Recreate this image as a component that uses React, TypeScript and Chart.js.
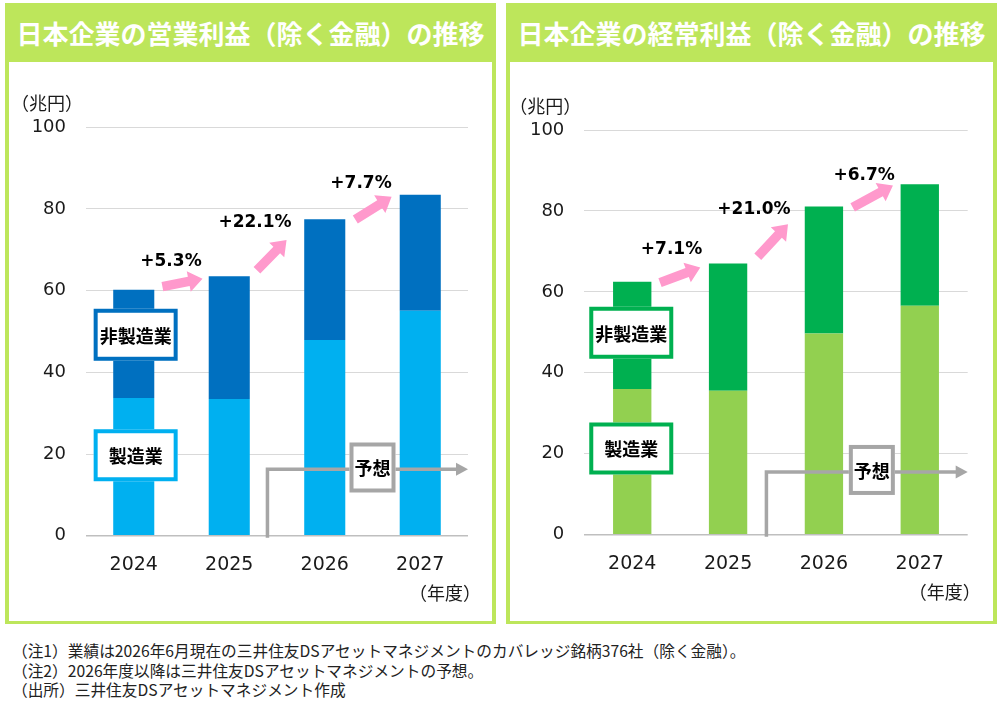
import { useEffect, useRef } from "react"
import { Chart, registerables } from "chart.js"

Chart.register(...registerables)

const years = ["2024", "2025", "2026", "2027"]
const yTicks = [0, 20, 40, 60, 80, 100]

// 営業利益（兆円）
const opMfg = [33.7, 33.5, 47.9, 55.1]
const opNonMfg = [26.5, 30.0, 29.6, 28.4]
const opGrowth = ["+5.3%", "+22.1%", "+7.7%"]

// 経常利益（兆円）
const ordMfg = [36.0, 35.6, 49.7, 56.6]
const ordNonMfg = [26.5, 31.4, 31.4, 30.0]
const ordGrowth = ["+7.1%", "+21.0%", "+6.7%"]

const notes = [
  "（注1）業績は2026年6月現在の三井住友DSアセットマネジメントのカバレッジ銘柄376社（除く金融）。",
  "（注2）2026年度以降は三井住友DSアセットマネジメントの予想。",
  "（出所）三井住友DSアセットマネジメント作成",
]

const GREEN = "#BDE65B"
const PINK = "#FF99CC"
const GRAY = "#A6A6A6"
const NUM_FONT = "'DejaVu Sans', 'Noto Sans CJK JP', sans-serif"
const JP_FONT = "'Noto Sans CJK JP', sans-serif"

// [category position, value]
type Pt = [number, number]

type PanelProps = {
  title: string
  mfg: number[]
  nonMfg: number[]
  growth: string[]
  mfgColor: string
  nonMfgColor: string
  mfgBox: string
  nonMfgBox: string
  barPct: number
  arrows: [Pt, Pt][]
  growthAt: Pt[]
  nonMfgAt: Pt
  mfgAt: Pt
  forecastY: number
  forecastBoxY: number
  plot: { left: number; top: number; right: number; bottom: number }
  left: number
}

function fatArrow(ctx: CanvasRenderingContext2D, x0: number, y0: number, x1: number, y1: number) {
  const dx = x1 - x0
  const dy = y1 - y0
  const len = Math.hypot(dx, dy)
  const ux = dx / len
  const uy = dy / len
  const nx = -uy
  const ny = ux
  const shaft = 4.7
  const head = 10.5
  const headLen = 14
  const bx = x1 - ux * headLen
  const by = y1 - uy * headLen
  ctx.beginPath()
  ctx.moveTo(x0 + nx * shaft, y0 + ny * shaft)
  ctx.lineTo(bx + nx * shaft, by + ny * shaft)
  ctx.lineTo(bx + nx * head, by + ny * head)
  ctx.lineTo(x1, y1)
  ctx.lineTo(bx - nx * head, by - ny * head)
  ctx.lineTo(bx - nx * shaft, by - ny * shaft)
  ctx.lineTo(x0 - nx * shaft, y0 - ny * shaft)
  ctx.closePath()
  ctx.fillStyle = PINK
  ctx.fill()
}

function labelBox(
  ctx: CanvasRenderingContext2D,
  cx: number,
  cy: number,
  w: number,
  h: number,
  color: string,
  text: string
) {
  ctx.fillStyle = "#fff"
  ctx.fillRect(cx - w / 2, cy - h / 2, w, h)
  ctx.lineWidth = 4
  ctx.strokeStyle = color
  ctx.strokeRect(cx - w / 2 + 2, cy - h / 2 + 2, w - 4, h - 4)
  ctx.fillStyle = "#000"
  ctx.font = `bold 18px ${JP_FONT}`
  ctx.textAlign = "center"
  ctx.textBaseline = "middle"
  ctx.fillText(text, cx, cy + 1)
}

function Panel(p: PanelProps) {
  const chartRef = useRef<HTMLCanvasElement | null>(null)

  useEffect(() => {
    if (!chartRef.current) return
    const ctx = chartRef.current.getContext("2d")
    if (!ctx) return

    const annotations = {
      id: "annotations",
      afterDatasetsDraw(chart: Chart) {
        const c = chart.ctx
        const a = chart.chartArea
        const x = chart.scales.x
        const y = chart.scales.y
        const x0 = x.getPixelForValue(0)
        const step = x.getPixelForValue(1) - x0
        const px = (pt: Pt): [number, number] => [x0 + pt[0] * step, y.getPixelForValue(pt[1])]

        c.save()

        // growth arrows + labels
        p.arrows.forEach(([from, to]) => {
          const [ax, ay] = px(from)
          const [bx, by] = px(to)
          fatArrow(c, ax, ay, bx, by)
        })
        c.fillStyle = "#000"
        c.font = `bold 17px ${NUM_FONT}`
        c.textAlign = "center"
        c.textBaseline = "middle"
        p.growth.forEach((g, i) => {
          const [gx, gy] = px(p.growthAt[i])
          c.fillText(g, gx, gy)
        })

        // forecast line
        const fx = x0 + 1.4 * step
        const fy = y.getPixelForValue(p.forecastY)
        c.strokeStyle = GRAY
        c.lineWidth = 3.5
        c.beginPath()
        c.moveTo(fx, a.bottom + 2)
        c.lineTo(fx, fy)
        c.lineTo(a.right - 10, fy)
        c.stroke()
        c.fillStyle = GRAY
        c.beginPath()
        c.moveTo(a.right, fy)
        c.lineTo(a.right - 12, fy - 6.5)
        c.lineTo(a.right - 12, fy + 6.5)
        c.closePath()
        c.fill()
        const [bx, by] = px([2.5, p.forecastBoxY])
        labelBox(c, bx, by, 46, 50, GRAY, "予想")

        // series labels
        const [nx, ny] = px(p.nonMfgAt)
        labelBox(c, nx, ny, 84, 52, p.nonMfgBox, "非製造業")
        const [mx, my] = px(p.mfgAt)
        labelBox(c, mx, my, 84, 52, p.mfgBox, "製造業")

        // unit labels
        c.fillStyle = "#1a1a1a"
        c.font = `18px ${JP_FONT}`
        c.textAlign = "center"
        c.textBaseline = "middle"
        c.fillText("（兆円）", a.left - 39, a.top - 24)
        c.fillText("（年度）", a.right - 23, a.bottom + 57)

        c.restore()
      },
    }

    const chart = new Chart(ctx, {
      type: "bar",
      data: {
        labels: years,
        datasets: [
          {
            label: "製造業",
            data: p.mfg,
            backgroundColor: p.mfgColor,
            barPercentage: p.barPct,
            categoryPercentage: 1,
          },
          {
            label: "非製造業",
            data: p.nonMfg,
            backgroundColor: p.nonMfgColor,
            barPercentage: p.barPct,
            categoryPercentage: 1,
          },
        ],
      },
      options: {
        animation: false,
        responsive: false,
        maintainAspectRatio: false,
        layout: { padding: { left: 0, top: p.plot.top, right: p.plot.right, bottom: 0 } },
        plugins: { legend: { display: false }, tooltip: { enabled: false } },
        scales: {
          x: {
            stacked: true,
            grid: { display: false, drawTicks: false },
            border: { display: false },
            ticks: { color: "#1a1a1a", padding: 18, font: { family: NUM_FONT, size: 19 } },
            afterFit: (s: any) => {
              s.height = p.plot.bottom
            },
          },
          y: {
            stacked: true,
            min: 0,
            max: 100,
            afterBuildTicks: (s: any) => {
              s.ticks = yTicks.map((v) => ({ value: v }))
            },
            grid: {
              drawTicks: false,
              color: (c: any) => (c.tick && c.tick.value === 0 ? "#BFBFBF" : "#D9D9D9"),
              lineWidth: (c: any) => (c.tick && c.tick.value === 0 ? 1.5 : 1),
            },
            border: { display: false },
            ticks: { color: "#1a1a1a", padding: 20, font: { family: NUM_FONT, size: 18 } },
            afterFit: (s: any) => {
              s.width = p.plot.left
            },
          },
        },
      },
      plugins: [annotations],
    })

    return () => {
      chart.destroy()
    }
  }, [])

  return (
    <div
      style={{
        position: "absolute",
        left: p.left,
        top: 3,
        width: 491,
        height: 621,
        background: GREEN,
      }}
    >
      <div
        style={{
          height: 59,
          display: "flex",
          alignItems: "center",
          justifyContent: "center",
          color: "#fff",
          fontFamily: JP_FONT,
          fontWeight: 700,
          fontSize: 26,
          whiteSpace: "nowrap",
        }}
      >
        {p.title}
      </div>
      <div
        style={{
          position: "absolute",
          left: 4,
          top: 59,
          width: 483,
          height: 559,
          background: "#fff",
        }}
      >
        <canvas ref={chartRef} width={483} height={559} style={{ display: "block" }}></canvas>
      </div>
    </div>
  )
}

export default function App() {
  return (
    <div
      style={{
        position: "absolute",
        left: 0,
        top: 0,
        width: 1001,
        height: 701,
        background: "#fff",
        overflow: "hidden",
      }}
    >
      <Panel
        title="日本企業の営業利益（除く金融）の推移"
        mfg={opMfg}
        nonMfg={opNonMfg}
        growth={opGrowth}
        mfgColor="#00B0F0"
        nonMfgColor="#0070C0"
        mfgBox="#00B0F0"
        nonMfgBox="#0070C0"
        barPct={0.43}
        arrows={[
          [[0.3, 61], [0.72, 62.9]],
          [[1.29, 65], [1.6, 72.4]],
          [[2.32, 77.4], [2.7, 83]],
        ]}
        growthAt={[[0.39, 67], [1.27, 76.6], [2.38, 86.2]]}
        nonMfgAt={[0.02, 49.2]}
        mfgAt={[0.02, 19.7]}
        forecastY={16.3}
        forecastBoxY={16.7}
        plot={{ left: 77, top: 65.3, right: 24, bottom: 85.3 }}
        left={5}
      />
      <Panel
        title="日本企業の経常利益（除く金融）の推移"
        mfg={ordMfg}
        nonMfg={ordNonMfg}
        growth={ordGrowth}
        mfgColor="#92D050"
        nonMfgColor="#00B050"
        mfgBox="#00B050"
        nonMfgBox="#00B050"
        barPct={0.4}
        arrows={[
          [[0.29, 62.3], [0.71, 66]],
          [[1.31, 68.7], [1.625, 76.7]],
          [[2.3, 80.9], [2.72, 86.3]],
        ]}
        growthAt={[[0.41, 70.4], [1.27, 80.4], [2.42, 88.8]]}
        nonMfgAt={[-0.01, 49.9]}
        mfgAt={[-0.01, 21.3]}
        forecastY={15.5}
        forecastBoxY={16}
        plot={{ left: 74.3, top: 68, right: 25.3, bottom: 86.3 }}
        left={506}
      />
      <div
        style={{
          position: "absolute",
          left: 12,
          top: 641,
          fontFamily: JP_FONT,
          fontSize: 15.7,
          lineHeight: "19.5px",
          color: "#222",
          whiteSpace: "nowrap",
        }}
      >
        {notes.map((n) => (
          <div key={n}>{n}</div>
        ))}
      </div>
    </div>
  )
}
